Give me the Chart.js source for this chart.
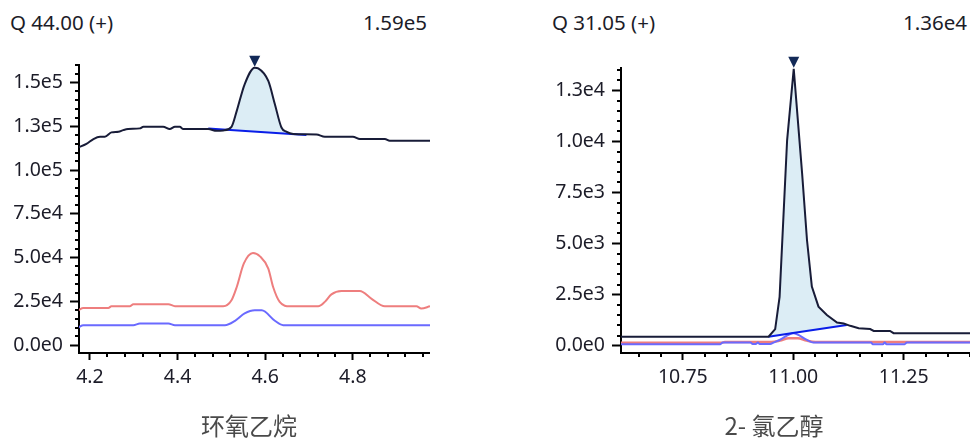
<!DOCTYPE html>
<html>
<head>
<meta charset="utf-8">
<script src="https://cdn.jsdelivr.net/npm/chart.js@4.4.0/dist/chart.umd.min.js"></script>
<style>
body { margin: 0; width: 970px; height: 440px; position: relative; background: #fff; overflow: hidden; font-family: 'Noto Sans', sans-serif; }
canvas { position: absolute; top: 0; }
.hd { position: absolute; top: 8px; font-size: 20.5px; line-height: 28px; color: #1c1c28; white-space: nowrap; }
.ttl { position: absolute; top: 410px; font-family: 'Noto Sans CJK SC', sans-serif; font-size: 24px; line-height: 30px; color: #4a4a4a; transform: translateX(-50%); white-space: nowrap; }
</style>
</head>
<body>
<div class="hd" style="left:10px">Q 44.00 (+)</div>
<div class="hd" style="right:543px">1.59e5</div>
<div class="hd" style="left:552px">Q 31.05 (+)</div>
<div class="hd" style="right:3px">1.36e4</div>
<canvas id="eo" width="430" height="440" style="left:0"></canvas>
<canvas id="ce" width="430" height="440" style="left:540px"></canvas>
<div class="ttl" style="left:249px">环氧乙烷</div>
<div class="ttl" style="left:774px">2- 氯乙醇</div>
<script>
// ---- 环氧乙烷 (Q 44.00) ----
const eoTimes = [4.173, 4.192, 4.208, 4.223, 4.234, 4.249, 4.265, 4.276, 4.287, 4.314, 4.322, 4.367, 4.382, 4.394, 4.405, 4.413,
                 4.470, 4.489, 4.504, 4.523, 4.535, 4.553, 4.576, 4.584, 4.607, 4.622, 4.637, 4.648, 4.664, 4.717, 4.736, 4.800,
                 4.816, 4.873, 4.884, 4.976];
const eoQuant = [112900, 114900, 117700, 119000, 119000, 121500, 121900, 122800, 123400, 123800, 124700, 124700, 123400, 124700, 124700, 123400,
                 123400, 122400, 122600, 124700, 133800, 149000, 158500, 158100, 150900, 137600, 124300, 121900, 120600, 120300, 119000, 119000,
                 117700, 117700, 116700, 116700];

const eoQ1Times = [4.173, 4.185, 4.242, 4.249, 4.291, 4.299, 4.379, 4.394, 4.504, 4.523, 4.535, 4.551, 4.572, 4.588, 4.607, 4.618,
                   4.633, 4.656, 4.721, 4.736, 4.751, 4.774, 4.816, 4.842, 4.873, 4.945, 4.956, 4.976];
const eoQ1 = [19900, 21200, 21200, 22200, 22200, 23400, 23400, 22200, 22200, 25600, 33200, 46500, 52600, 50700, 43700, 33200,
              24700, 22200, 22200, 24700, 29000, 30900, 30900, 26600, 22200, 22200, 20900, 22200];

const eoQ2Times = [4.173, 4.185, 4.299, 4.314, 4.379, 4.394, 4.508, 4.531, 4.553, 4.576, 4.592, 4.622, 4.641, 4.976];
const eoQ2 = [10100, 11400, 11400, 12300, 12300, 11400, 11400, 13900, 18100, 19900, 19900, 13900, 11400, 11400];

const eoBaseTimes = [4.470, 4.694];
const eoBase = [123800, 120000];

const eoXTicks = [4.2, 4.4, 4.6, 4.8];
const eoYTicks = [0, 25000, 50000, 75000, 100000, 125000, 150000];

// ---- 2-氯乙醇 (Q 31.05) ----
const ceTimes = [10.610, 10.944, 10.959, 10.969, 10.986, 11.001, 11.020, 11.031, 11.042, 11.057, 11.076, 11.099, 11.114, 11.129,
                 11.148, 11.174, 11.182, 11.219, 11.227, 11.400];
const ceQuant = [450, 450, 820, 2400, 10060, 13560, 8430, 5180, 2900, 1920, 1510, 1140, 1090, 980, 860, 820, 730, 730, 620, 620];

const ceQ1Times = [10.610, 10.838, 10.845, 10.950, 10.970, 10.990, 11.010, 11.030, 11.050, 11.400];
const ceQ1 = [150, 150, 190, 190, 260, 370, 370, 260, 190, 190];

const ceQ2Times = [10.610, 10.835, 10.840, 10.903, 10.908, 10.915, 10.920, 10.924, 10.948, 10.955, 10.970, 11.000, 11.031, 11.045,
                   11.176, 11.180, 11.203, 11.207, 11.211, 11.252, 11.257, 11.400];
const ceQ2 = [80, 80, 160, 160, 90, 90, 160, 90, 90, 160, 300, 620, 290, 160, 160, 80, 80, 160, 80, 80, 160, 160];

const ceBaseTimes = [10.944, 11.121];
const ceBase = [450, 1025];

const ceXTicks = [10.75, 11.00, 11.25];
const ceYTicks = [0, 2500, 5000, 7500, 10000, 12500];

Chart.defaults.font.family = "'Noto Sans', sans-serif";
Chart.defaults.font.size = 19.5;
Chart.defaults.color = '#1c1c28';

const pts = (xs, ys) => xs.map((x, i) => ({ x, y: ys[i] }));

function areaPoints(xs, ys, bx, by) {
    const out = [{ x: bx[0], y: by[0] }];
    xs.forEach((x, i) => { if (x > bx[0] && x < bx[1]) out.push({ x, y: ys[i] }); });
    out.push({ x: bx[1], y: by[1] });
    return out;
}

// short minor ticks between the labelled ones
const minorTicks = {
    id: 'minorTicks',
    afterDraw(chart, args, opts) {
        const { ctx, chartArea, scales } = chart;
        ctx.save();
        ctx.strokeStyle = '#000';
        ctx.lineWidth = 2;
        ['x', 'y'].forEach(k => {
            const s = scales[k], step = opts[k];
            const majors = s.ticks.map(t => t.value);
            for (let i = Math.ceil(s.min / step - 1e-6); i * step <= s.max + 1e-9; i++) {
                const v = i * step;
                if (majors.some(m => Math.abs(m - v) < step / 10)) continue;
                const p = Math.round(s.getPixelForValue(v));
                ctx.beginPath();
                if (k === 'x') { ctx.moveTo(p, chartArea.bottom); ctx.lineTo(p, chartArea.bottom + 4); }
                else { ctx.moveTo(chartArea.left - 4, p); ctx.lineTo(chartArea.left, p); }
                ctx.stroke();
            }
        });
        ctx.restore();
    }
};

// apex marker over the quant trace
const apexMark = {
    id: 'apexMark',
    afterDatasetsDraw(chart, args, opts) {
        const data = chart.data.datasets[opts.index].data;
        const top = data.reduce((a, b) => (b.y > a.y ? b : a));
        const x = chart.scales.x.getPixelForValue(top.x);
        const y = chart.scales.y.getPixelForValue(top.y);
        const { ctx } = chart;
        ctx.save();
        ctx.fillStyle = '#132a58';
        ctx.beginPath();
        ctx.moveTo(x - 5.5, y - 12);
        ctx.lineTo(x + 5.5, y - 12);
        ctx.lineTo(x, y - 1);
        ctx.closePath();
        ctx.fill();
        ctx.restore();
    }
};

function build(id, cfg) {
    const line = (data, color, width, extra) => Object.assign({
        data, borderColor: color, borderWidth: width, pointRadius: 0, fill: false,
        cubicInterpolationMode: 'monotone'
    }, extra);

    new Chart(document.getElementById(id), {
        type: 'line',
        data: {
            datasets: [
                line(areaPoints(cfg.times, cfg.quant, cfg.baseTimes, cfg.base), 'rgba(0,0,0,0)', 0,
                     { fill: 1, backgroundColor: '#dcedf5', order: 9, cubicInterpolationMode: cfg.mode }),
                line(pts(cfg.baseTimes, cfg.base), '#0a1ee8', 2, { order: 2 }),
                line(pts(cfg.q1Times, cfg.q1), '#ee7e7e', cfg.redWidth, { order: 4 }),
                line(pts(cfg.q2Times, cfg.q2), '#6a6aff', 2, { order: 3 }),
                line(pts(cfg.times, cfg.quant), '#181c38', 2, { order: 1, cubicInterpolationMode: cfg.mode })
            ]
        },
        options: {
            responsive: false,
            animation: false,
            layout: { padding: { top: cfg.top, right: 0, left: 0, bottom: 0 } },
            plugins: {
                legend: { display: false },
                tooltip: { enabled: false },
                minorTicks: { x: cfg.xMinor, y: cfg.yMinor },
                apexMark: { index: 4 }
            },
            scales: {
                x: {
                    type: 'linear', min: cfg.xMin, max: cfg.xMax,
                    afterBuildTicks: s => { s.ticks = cfg.xTicks.map(v => ({ value: v })); },
                    afterFit: s => { s.height = 440 - 353; },
                    ticks: { callback: v => v.toFixed(cfg.xDigits), padding: 6, maxRotation: 0, autoSkip: false },
                    grid: { drawOnChartArea: false, tickLength: 7, tickWidth: 2, tickColor: '#000' },
                    border: { color: '#000', width: 2 }
                },
                y: {
                    type: 'linear', min: cfg.yMin, max: cfg.yMax,
                    afterBuildTicks: s => { s.ticks = cfg.yTicks.map(v => ({ value: v })); },
                    afterFit: s => { s.width = cfg.yWidth; },
                    ticks: { callback: v => v.toExponential(1).replace('+', ''), padding: 7, autoSkip: false },
                    grid: { drawOnChartArea: false, tickLength: 9, tickWidth: 2, tickColor: '#000' },
                    border: { color: '#000', width: 2 }
                }
            }
        },
        plugins: [minorTicks, apexMark]
    });
}

build('eo', {
    times: eoTimes, quant: eoQuant, q1Times: eoQ1Times, q1: eoQ1, q2Times: eoQ2Times, q2: eoQ2,
    baseTimes: eoBaseTimes, base: eoBase, xTicks: eoXTicks, yTicks: eoYTicks,
    xMin: 4.175, xMax: 4.976, yMin: -4500, yMax: 160000, xMinor: 0.04, yMinor: 5000,
    xDigits: 1, yWidth: 79, top: 65, redWidth: 2, mode: 'monotone'
});

build('ce', {
    times: ceTimes, quant: ceQuant, q1Times: ceQ1Times, q1: ceQ1, q2Times: ceQ2Times, q2: ceQ2,
    baseTimes: ceBaseTimes, base: ceBase, xTicks: ceXTicks, yTicks: ceYTicks,
    xMin: 10.610, xMax: 11.400, yMin: -350, yMax: 13600, xMinor: 0.05, yMinor: 500,
    xDigits: 2, yWidth: 81, top: 68, redWidth: 2.5, mode: 'default'
});
</script>
</body>
</html>
